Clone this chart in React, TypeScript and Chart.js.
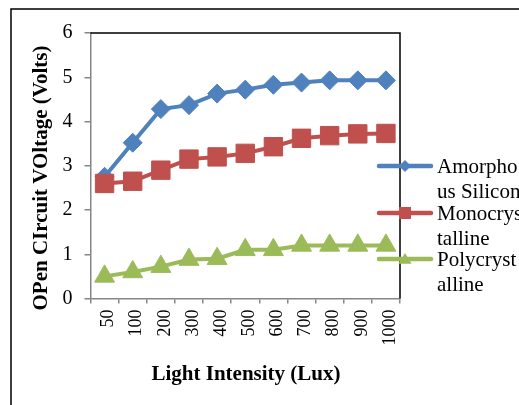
import React, { useEffect, useRef } from "react";
import { Chart, registerables } from "chart.js";
Chart.register(...registerables);

const categories = ["50", "100", "200", "300", "400", "500", "600", "700", "800", "900", "1000"];
const amorphous = [2.75, 3.52, 4.28, 4.37, 4.63, 4.72, 4.83, 4.88, 4.93, 4.93, 4.93];
const monocrystalline = [2.6, 2.65, 2.9, 3.15, 3.2, 3.28, 3.43, 3.62, 3.68, 3.72, 3.73];
const polycrystalline = [0.5, 0.6, 0.72, 0.88, 0.9, 1.1, 1.1, 1.2, 1.2, 1.2, 1.2];
const seriesNames = ["Amorphous Silicon", "Monocrystalline", "Polycrystalline"];
const legendLines = [["Amorpho", "us Silicon"], ["Monocrys", "talline"], ["Polycryst", "alline"]];
const yMin = 0;
const yMax = 6;
const yStep = 1;
const xTitle = "Light Intensity (Lux)";
const yTitle = "OPen CIrcuit VOltage (Volts)";

const BLUE = "#4F81BD";
const RED = "#C0504D";
const GREEN = "#9BBB59";
const SERIF = '"Liberation Serif", "Times New Roman", serif';

function drawMarker(ctx: CanvasRenderingContext2D, shape: string, x: number, y: number, s: number, color: string) {
  ctx.save();
  ctx.fillStyle = color;
  ctx.beginPath();
  if (shape === "diamond") {
    ctx.moveTo(x, y - s);
    ctx.lineTo(x + s, y);
    ctx.lineTo(x, y + s);
    ctx.lineTo(x - s, y);
  } else if (shape === "square") {
    ctx.rect(x - s, y - s, 2 * s, 2 * s);
  } else {
    ctx.moveTo(x, y - s);
    ctx.lineTo(x + s * 1.1, y + s * 0.8);
    ctx.lineTo(x - s * 1.1, y + s * 0.8);
  }
  ctx.closePath();
  ctx.fill();
  ctx.restore();
}

const decorPlugin = {
  id: "decor",
  afterDraw(chart: any) {
    const ctx: CanvasRenderingContext2D = chart.ctx;
    const a = chart.chartArea;
    ctx.save();
    // outer frame
    ctx.strokeStyle = "#000";
    ctx.lineWidth = 1.5;
    ctx.beginPath();
    ctx.moveTo(11, 405);
    ctx.lineTo(11, 9);
    ctx.lineTo(519, 9);
    ctx.stroke();
    // plot top/right border
    ctx.lineWidth = 1.5;
    ctx.beginPath();
    ctx.moveTo(a.left, a.top);
    ctx.lineTo(a.right, a.top);
    ctx.lineTo(a.right, a.bottom);
    ctx.stroke();

    // titles
    ctx.fillStyle = "#000";
    ctx.font = `bold 21px ${SERIF}`;
    ctx.textAlign = "center";
    ctx.textBaseline = "alphabetic";
    ctx.fillText(xTitle, 246, 380);
    ctx.save();
    ctx.translate(47, 178);
    ctx.rotate(-Math.PI / 2);
    ctx.fillText(yTitle, 0, 0);
    ctx.restore();

    // legend
    const colors = [BLUE, RED, GREEN];
    const shapes = ["diamond", "square", "triangle"];
    const ys = [166, 213, 259];
    const sizes = [6, 6, 6];
    ctx.font = `21px ${SERIF}`;
    ctx.textAlign = "left";
    for (let i = 0; i < seriesNames.length; i++) {
      const y = ys[i];
      ctx.strokeStyle = colors[i];
      ctx.lineWidth = 4.5;
      ctx.lineCap = "round";
      ctx.beginPath();
      ctx.moveTo(379, y);
      ctx.lineTo(431, y);
      ctx.stroke();
      drawMarker(ctx, shapes[i], 405, y, sizes[i], colors[i]);
      ctx.fillStyle = "#000";
      ctx.fillText(legendLines[i][0], 437, y + 7);
      ctx.fillText(legendLines[i][1], 437, y + 31.5);
    }
    ctx.restore();
  },
};

export default function App() {
  const ref = useRef<HTMLCanvasElement>(null);
  useEffect(() => {
    if (!ref.current) return;
    const chart = new Chart(ref.current, {
      type: "line",
      data: {
        labels: categories,
        datasets: [
          {
            label: seriesNames[0],
            data: amorphous,
            borderColor: BLUE,
            backgroundColor: BLUE,
            borderWidth: 4,
            pointStyle: "rectRot",
            pointRadius: 9.5,
            pointBorderWidth: 1,
            order: 3,
          },
          {
            label: seriesNames[1],
            data: monocrystalline,
            borderColor: RED,
            backgroundColor: RED,
            borderWidth: 4,
            pointStyle: "rect",
            pointRadius: 13,
            pointBorderWidth: 1,
            order: 2,
          },
          {
            label: seriesNames[2],
            data: polycrystalline,
            borderColor: GREEN,
            backgroundColor: GREEN,
            borderWidth: 4,
            pointStyle: "triangle",
            pointRadius: 11.5,
            pointBorderWidth: 1,
            order: 1,
          },
        ],
      },
      options: {
        responsive: false,
        animation: false,
        events: [],
        layout: { padding: { top: 33, right: 119, left: 0, bottom: 0 } },
        plugins: { legend: { display: false }, tooltip: { enabled: false }, title: { display: false } },
        scales: {
          x: {
            type: "category",
            offset: true,
            grid: {
              offset: true,
              drawOnChartArea: false,
              drawTicks: true,
              tickLength: 5,
              color: "#868686",
              lineWidth: 1.5,
            },
            border: { display: true, color: "#868686", width: 1.5 },
            ticks: {
              minRotation: 90,
              maxRotation: 90,
              padding: 6,
              labelOffset: 4,
              color: "#000",
              font: { family: SERIF, size: 18 },
              autoSkip: false,
            },
            afterFit: (s: any) => {
              s.height = 106.5;
            },
          },
          y: {
            min: yMin,
            max: yMax,
            ticks: {
              stepSize: yStep,
              padding: 12,
              color: "#000",
              font: { family: SERIF, size: 20 },
            },
            grid: {
              drawOnChartArea: false,
              drawTicks: true,
              tickLength: 6,
              color: "#868686",
              lineWidth: 1.5,
            },
            border: { display: true, color: "#868686", width: 1.5 },
            afterFit: (s: any) => {
              s.width = 90.5;
            },
          },
        },
      },
      plugins: [decorPlugin],
    });
    return () => chart.destroy();
  }, []);
  return (
    <div style={{ position: "fixed", left: 0, top: 0, width: 519, height: 405, background: "#fff" }}>
      <canvas ref={ref} width={519} height={405} style={{ display: "block" }} />
    </div>
  );
}
